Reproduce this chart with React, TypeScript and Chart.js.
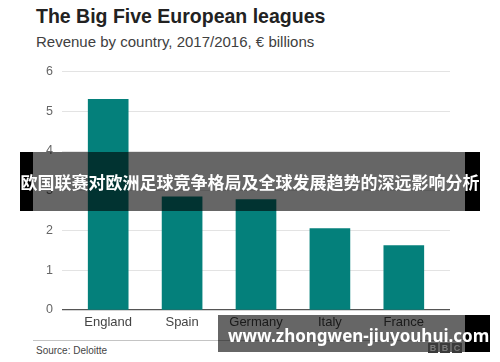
import React, { useEffect, useRef } from "react";
import { Chart, registerables } from "chart.js";

Chart.register(...registerables);

const categories = ["England", "Spain", "Germany", "Italy", "France"];
const revenue = [5.3, 2.85, 2.78, 2.05, 1.62];
const yTicks = [0, 1, 2, 3, 4, 5, 6];

const TITLE = "The Big Five European leagues";
const SUBTITLE = "Revenue by country, 2017/2016, € billions";
const SOURCE = "Source: Deloitte";
const BANNER = "欧国联赛对欧洲足球竞争格局及全球发展趋势的深远影响分析";
const WATERMARK = "www.zhongwen-jiuyouhui.com";

const FONT = "'Liberation Sans', Arial, Helvetica, sans-serif";

export default function App() {
  const ref = useRef<HTMLCanvasElement | null>(null);

  useEffect(() => {
    if (!ref.current) return;
    const chart = new Chart(ref.current, {
      type: "bar",
      data: {
        datasets: [
          {
            data: revenue.map((v, i) => ({ x: i, y: v })),
            backgroundColor: "#04807b",
            borderWidth: 0,
            barThickness: 40,
          },
        ],
      },
      options: {
        animation: false,
        responsive: false,
        maintainAspectRatio: false,
        layout: { padding: { top: 15, right: 50, left: 0, bottom: 0 } },
        plugins: {
          legend: { display: false },
          tooltip: { enabled: false },
        },
        scales: {
          x: {
            type: "linear",
            offset: false,
            min: -0.625,
            max: categories.length - 1 + 0.625,
            afterBuildTicks: (axis: any) => {
              axis.ticks = categories.map((_, i) => ({ value: i }));
            },
            afterFit: (axis: any) => {
              axis.height = 25;
            },
            grid: { display: false, drawTicks: false },
            border: { display: false },
            ticks: {
              padding: 5,
              color: "#444",
              font: { family: FONT, size: 13 },
              callback: (v: any) => categories[v as number] ?? "",
              maxRotation: 0,
              autoSkip: false,
            },
          },
          y: {
            min: yTicks[0],
            max: yTicks[yTicks.length - 1],
            afterBuildTicks: (axis: any) => {
              axis.ticks = yTicks.map((v) => ({ value: v }));
            },
            afterFit: (axis: any) => {
              axis.width = 62;
            },
            grid: {
              drawTicks: false,
              color: (ctx: any) => (ctx.tick && ctx.tick.value === 0 ? "#555" : "#e3e3e3"),
              lineWidth: (ctx: any) => (ctx.tick && ctx.tick.value === 0 ? 1.3 : 1),
            },
            border: { display: false },
            ticks: {
              padding: 9,
              color: "#666",
              font: { family: FONT, size: 12.5 },
            },
          },
        },
      },
    });
    return () => chart.destroy();
  }, []);

  return (
    <div
      style={{
        position: "fixed",
        left: 0,
        top: 0,
        width: 500,
        height: 362,
        background: "#fff",
        overflow: "hidden",
        fontFamily: FONT,
      }}
    >
      <div
        style={{
          position: "absolute",
          left: 36,
          top: 5,
          fontSize: 19.5,
          fontWeight: 700,
          color: "#222",
          whiteSpace: "nowrap",
          lineHeight: "normal",
        }}
      >
        {TITLE}
      </div>
      <div
        style={{
          position: "absolute",
          left: 36,
          top: 33,
          fontSize: 15,
          color: "#404040",
          whiteSpace: "nowrap",
          lineHeight: "normal",
        }}
      >
        {SUBTITLE}
      </div>
      <canvas
        ref={ref}
        width={500}
        height={280}
        style={{ position: "absolute", left: 0, top: 55, width: 500, height: 280 }}
      />
      <div
        style={{
          position: "absolute",
          left: 33,
          top: 340,
          width: 434,
          height: 1,
          background: "#c4c4c4",
        }}
      />
      <div
        style={{
          position: "absolute",
          left: 36,
          top: 345,
          fontSize: 10,
          color: "#444",
          whiteSpace: "nowrap",
          lineHeight: "normal",
        }}
      >
        {SOURCE}
      </div>

      {/* banner overlay */}
      <div style={{ position: "absolute", left: 20, top: 152, width: 13, height: 59, background: "#000" }} />
      <div style={{ position: "absolute", left: 465, top: 152, width: 15, height: 59, background: "#000" }} />
      <div
        style={{
          position: "absolute",
          left: 33,
          top: 152,
          width: 432,
          height: 59,
          background: "rgba(0,0,0,0.6)",
        }}
      />
      <div
        style={{
          position: "absolute",
          left: 20,
          top: 152,
          width: 460,
          height: 59,
          display: "flex",
          alignItems: "center",
          justifyContent: "center",
          color: "#fff",
          fontFamily: "'Noto Sans CJK SC', sans-serif",
          fontWeight: 700,
          fontSize: 17,
          whiteSpace: "nowrap",
        }}
      >
        {BANNER}
      </div>

      {/* watermark overlay */}
      <div
        style={{
          position: "absolute",
          left: 218,
          top: 315,
          width: 247,
          height: 37,
          background: "rgba(0,0,0,0.6)",
        }}
      />
      <div style={{ position: "absolute", left: 465, top: 315, width: 25, height: 37, background: "#000" }} />
      <div
        style={{
          position: "absolute",
          left: 428,
          top: 343,
          display: "flex",
          gap: 2,
        }}
      >
        {["B", "B", "C"].map((l, i) => (
          <div
            key={i}
            style={{
              width: 10,
              height: 10,
              background: "#3a3a3a",
              color: "#7a7a7a",
              fontSize: 9,
              fontWeight: 700,
              lineHeight: "10px",
              textAlign: "center",
              fontFamily: FONT,
            }}
          >
            {l}
          </div>
        ))}
      </div>
      <div
        style={{
          position: "absolute",
          left: 228,
          top: 324,
          color: "#fff",
          fontFamily: "'Noto Sans', sans-serif",
          fontWeight: 700,
          fontSize: 17,
          whiteSpace: "nowrap",
          lineHeight: "24px",
        }}
      >
        {WATERMARK}
      </div>
    </div>
  );
}
